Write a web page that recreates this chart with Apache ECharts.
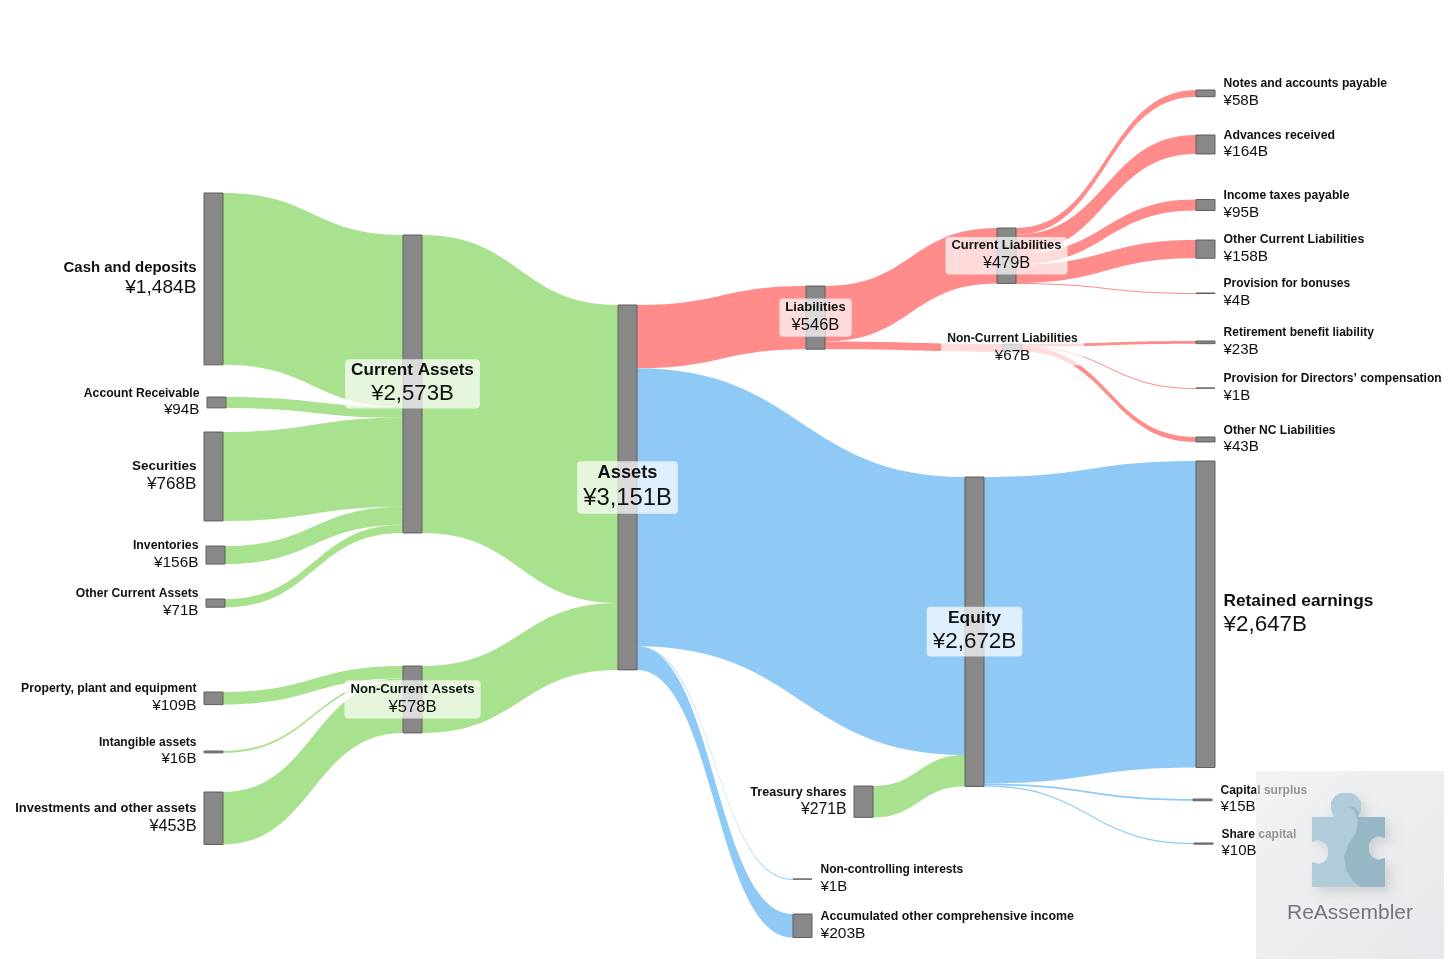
<!DOCTYPE html>
<html>
<head>
<meta charset="utf-8">
<script src="https://cdn.jsdelivr.net/npm/echarts@6/dist/echarts.min.js"></script>
<style>html,body{margin:0;padding:0;background:#fff}#c{width:1456px;height:971px}</style>
</head>
<body>
<div id="c"></div>
<script>
// ---------- DATA ----------
const nodeNames = [
  'Cash and deposits', 'Account Receivable', 'Securities', 'Inventories', 'Other Current Assets',
  'Property, plant and equipment', 'Intangible assets', 'Investments and other assets',
  'Current Assets', 'Non-Current Assets', 'Assets',
  'Liabilities', 'Treasury shares', 'Non-controlling interests', 'Accumulated other comprehensive income',
  'Current Liabilities', 'Non-Current Liabilities', 'Equity',
  'Notes and accounts payable', 'Advances received', 'Income taxes payable', 'Other Current Liabilities',
  'Provision for bonuses', 'Retirement benefit liability', 'Provision for Directors\u2019 compensation',
  'Other NC Liabilities', 'Retained earnings', 'Capital surplus', 'Share capital'
];

const linkSource = [
  'Cash and deposits', 'Account Receivable', 'Securities', 'Inventories', 'Other Current Assets',
  'Property, plant and equipment', 'Intangible assets', 'Investments and other assets',
  'Current Assets', 'Non-Current Assets',
  'Assets', 'Assets', 'Assets', 'Assets',
  'Treasury shares',
  'Liabilities', 'Liabilities',
  'Current Liabilities', 'Current Liabilities', 'Current Liabilities', 'Current Liabilities', 'Current Liabilities',
  'Non-Current Liabilities', 'Non-Current Liabilities', 'Non-Current Liabilities',
  'Equity', 'Equity', 'Equity'
];
const linkTarget = [
  'Current Assets', 'Current Assets', 'Current Assets', 'Current Assets', 'Current Assets',
  'Non-Current Assets', 'Non-Current Assets', 'Non-Current Assets',
  'Assets', 'Assets',
  'Liabilities', 'Equity', 'Non-controlling interests', 'Accumulated other comprehensive income',
  'Equity',
  'Current Liabilities', 'Non-Current Liabilities',
  'Notes and accounts payable', 'Advances received', 'Income taxes payable', 'Other Current Liabilities', 'Provision for bonuses',
  'Retirement benefit liability', 'Provision for Directors\u2019 compensation', 'Other NC Liabilities',
  'Retained earnings', 'Capital surplus', 'Share capital'
];
const linkValue = [
  1484, 94, 768, 156, 71,
  109, 16, 453,
  2573, 578,
  546, 2401, 1, 203,
  271,
  479, 67,
  58, 164, 95, 158, 4,
  23, 1, 43,
  2647, 15, 10
];

// ---------- LAYOUT (column, left/top in px, label side) ----------
const nodeDepth = [0,0,0,0,0,0,0,0, 1,1, 2, 3,3,3,3, 4,4,4, 5,5,5,5,5,5,5,5,5,5,5];
const nodeLeft  = [204,207,204,206,206,204,204,204, 403,403, 618, 806,854,793,793, 997,1003,965,
                   1196,1196,1196,1196,1196,1196,1196,1196,1196,1193,1194];
const nodeTop   = [193,397,432,546,599,692,751,792, 235,666, 305, 286,786,879,914, 228,344,477,
                   90,135,199.5,240,293,341,388,437,461,799,843];
const labelSide = ['left','left','left','left','left','left','left','left',
                   'inside','inside','inside','inside','left','right','right','inside','inside','inside',
                   'right','right','right','right','right','right','right','right','right','right','right'];

const W = 1456, H = 971, KY = 0.1158;
const FONT = 'Helvetica, Arial, "Liberation Sans", sans-serif';
const GREEN = '#a9e28e', RED = '#ff8b8b', BLUE = '#8fcaf7';

// node values = max(in, out)
const inSum = {}, outSum = {};
linkValue.forEach((v, i) => {
  outSum[linkSource[i]] = (outSum[linkSource[i]] || 0) + v;
  inSum[linkTarget[i]] = (inSum[linkTarget[i]] || 0) + v;
});
const nodeValue = nodeNames.map(n => Math.max(inSum[n] || 0, outSum[n] || 0));

// node gap so that the scale becomes KY px per unit
const colSum = {}, colCount = {};
nodeNames.forEach((n, i) => {
  const d = nodeDepth[i];
  colSum[d] = (colSum[d] || 0) + nodeValue[i];
  colCount[d] = (colCount[d] || 0) + 1;
});
let gap = Infinity;
Object.keys(colSum).forEach(d => {
  if (colCount[d] > 1) gap = Math.min(gap, (H - KY * colSum[d]) / (colCount[d] - 1));
});

const nodes = nodeNames.map((name, i) => {
  const v = nodeValue[i];
  const ts = 12 + 0.002 * v, vs = 15 + 0.0028 * v;
  const side = labelSide[i];
  const align = side === 'left' ? 'right' : (side === 'right' ? 'left' : 'center');
  const label = {
    show: true,
    position: side,
    distance: side === 'right' ? 8 : 7,
    formatter: '{t|' + name + '}\n{v|\u00a5' + v.toLocaleString('en-US') + 'B}',
    rich: {
      t: { fontFamily: FONT, fontSize: ts, fontWeight: 'bold', lineHeight: ts * 1.15 + 1, color: '#111', align: align },
      v: { fontFamily: FONT, fontSize: vs, lineHeight: vs * 1.15 + 1, color: '#111', align: align }
    }
  };
  if (side === 'inside') {
    label.backgroundColor = 'rgba(255,255,255,0.7)';
    label.padding = [1, 6, 1, 6];
    label.borderRadius = 4;
  }
  return {
    name: name,
    value: v,
    depth: nodeDepth[i],
    localX: nodeLeft[i] / W,
    localY: nodeTop[i] / H,
    label: label
  };
});

function linkColor(s, t) {
  if (t === 'Current Assets' || t === 'Non-Current Assets' || t === 'Assets' || s === 'Treasury shares') return GREEN;
  if (t === 'Liabilities' || s === 'Liabilities' || s === 'Current Liabilities' || s === 'Non-Current Liabilities') return RED;
  return BLUE;
}
const links = linkValue.map((v, i) => ({
  source: linkSource[i], target: linkTarget[i], value: v,
  lineStyle: { color: linkColor(linkSource[i], linkTarget[i]), opacity: 1, curveness: 0.5 }
}));

// watermark shapes
const watermark = [
  { type: 'rect', z: 100, shape: { x: 1256, y: 771, width: 188, height: 188 },
    style: { fill: new echarts.graphic.LinearGradient(0, 0, 1, 1, [
      { offset: 0, color: 'rgba(232,234,237,0.6)' }, { offset: 1, color: 'rgba(214,218,222,0.62)' }]) } },
  { type: 'polygon', z: 101, shape: { points: [
      [1312,817],[1334,817],[1331,810],[1331,802],[1335,796],[1341,793],[1351,793],[1357,796],[1361,802],[1361,810],[1358,817],
      [1385,817],[1385,838],[1378,836],[1372,839],[1369,844],[1369,852],[1372,857],[1378,860],[1385,858],
      [1385,887],[1312,887],[1312,862],[1319,864],[1325,861],[1328,856],[1328,848],[1325,843],[1319,840],[1312,842]] },
    style: { fill: '#b0ccd9', shadowBlur: 12, shadowColor: 'rgba(0,0,0,0.12)', shadowOffsetX: 5, shadowOffsetY: 5 } },
  { type: 'polygon', z: 102, shape: { points: [
      [1346,806],[1354,810],[1358,820],[1356,832],[1349,843],[1344,856],[1346,870],[1352,880],[1360,887],
      [1385,887],[1385,858],[1378,860],[1372,857],[1369,852],[1369,844],[1372,839],[1378,836],[1385,838],
      [1385,817],[1358,817],[1359,812],[1354,807]] },
    style: { fill: '#98b7c6' } },
  { type: 'text', z: 103, x: 1350, y: 913,
    style: { text: 'ReAssembler', fontFamily: FONT, fontSize: 21, fill: '#717785', align: 'center', verticalAlign: 'middle' } }
];

const chart = echarts.init(document.getElementById('c'), null, { renderer: 'canvas' });
chart.setOption({
  backgroundColor: '#fff',
  animation: false,
  series: [{
    type: 'sankey',
    left: 0, top: 0, width: W, height: H,
    nodeWidth: 19,
    nodeGap: gap,
    layoutIterations: 0,
    draggable: false,
    emphasis: { disabled: true },
    itemStyle: { color: '#888888', borderColor: '#5f5f5f', borderWidth: 1 },
    lineStyle: { opacity: 1, curveness: 0.5 },
    data: nodes,
    links: links
  }],
  graphic: [{ type: 'group', z: 100, children: watermark }]
});
</script>
</body>
</html>
